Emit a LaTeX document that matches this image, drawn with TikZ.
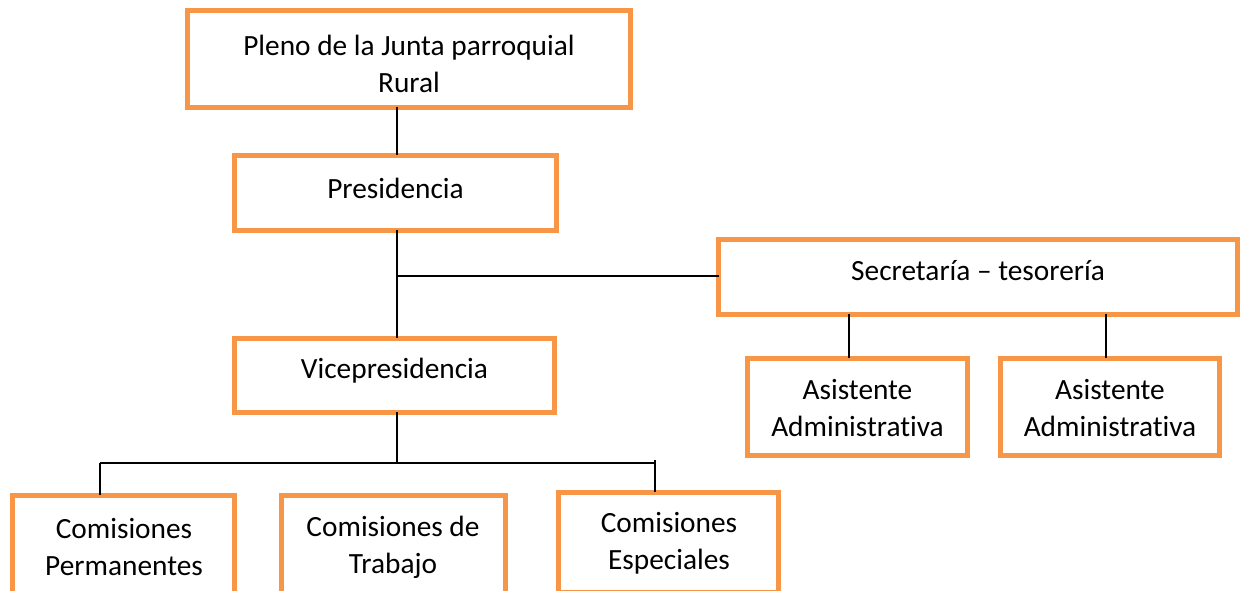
\documentclass[tikz,border=0pt]{standalone}
\usepackage{fontspec}
\setmainfont[Ligatures={NoCommon}]{Carlito}
\definecolor{boxorange}{HTML}{F79646}
\begin{document}
\begin{tikzpicture}[x=0.75pt,y=-0.75pt,
  box/.style={draw=boxorange,line width=3.75pt,fill=white,inner sep=0pt,outer sep=0pt,rectangle},
  lbl/.style={inner sep=0pt,align=center,font=\fontsize{22pt}{27.75pt}\selectfont,text=black},
  conn/.style={draw=black,line width=1.1pt}]
\useasboundingbox (0,0) rectangle (1243,591);
\clip (0,0) rectangle (1243,591);
% junction coordinates
\coordinate (j1) at (397,276);
\coordinate (j2) at (397,463);
\coordinate (bl) at (100,463);
\coordinate (br) at (655,463);
\coordinate (brt) at (655,460);
% boxes
\node[box,minimum width=443*0.75pt,minimum height=97*0.75pt] (top) at (409,59) {};
\node[box,minimum width=322*0.75pt,minimum height=75*0.75pt] (pres) at (395.5,193) {};
\node[box,minimum width=519*0.75pt,minimum height=75*0.75pt] (sec) at (978,277) {};
\node[box,minimum width=320*0.75pt,minimum height=74*0.75pt] (vice) at (394.5,375.5) {};
\node[box,minimum width=220*0.75pt,minimum height=97*0.75pt] (as1) at (857.5,407) {};
\node[box,minimum width=219*0.75pt,minimum height=97*0.75pt] (as2) at (1110,407) {};
\node[box,minimum width=222*0.75pt,minimum height=100*0.75pt] (perm) at (123.5,545.5) {};
\node[box,minimum width=224*0.75pt,minimum height=100*0.75pt] (trab) at (393.5,545.5) {};
\node[box,minimum width=220*0.75pt,minimum height=100*0.75pt] (esp) at (668.5,542.5) {};
% connectors
\draw[conn] (top.south -| j1) -- (pres.north -| j1);
\draw[conn] (pres.south -| j1) -- (vice.north -| j1);
\draw[conn] (j1) -- (j1 -| sec.west);
\draw[conn] (sec.south -| 849,0) -- (as1.north -| 849,0);
\draw[conn] (sec.south -| 1106,0) -- (as2.north -| 1106,0);
\draw[conn] (vice.south -| j2) -- (j2);
\draw[conn] (bl) -- (br);
\draw[conn] (bl) -- (perm.north -| bl);
\draw[conn] (brt) -- (esp.north -| brt);
% labels
\node[lbl] (ttop) at (409,64) {Pleno de la Junta parroquial\\Rural};
\node[lbl] (tpres) at (395.5,188) {Presidencia};
\node[lbl] (tsec) at (978,271) {Secretaría – tesorería};
\node[lbl] (tvice) at (394.5,371) {Vicepresidencia};
\node[lbl] (tas1) at (857.5,408) {Asistente\\Administrativa};
\node[lbl] (tas2) at (1110,408) {Asistente\\Administrativa};
\node[lbl] (tperm) at (124,547) {Comisiones\\Permanentes};
\node[lbl] (ttrab) at (393,547) {Comisiones de\\Trabajo};
\node[lbl] (tesp) at (669,543) {Comisiones\\Especiales};
\end{tikzpicture}
\end{document}
